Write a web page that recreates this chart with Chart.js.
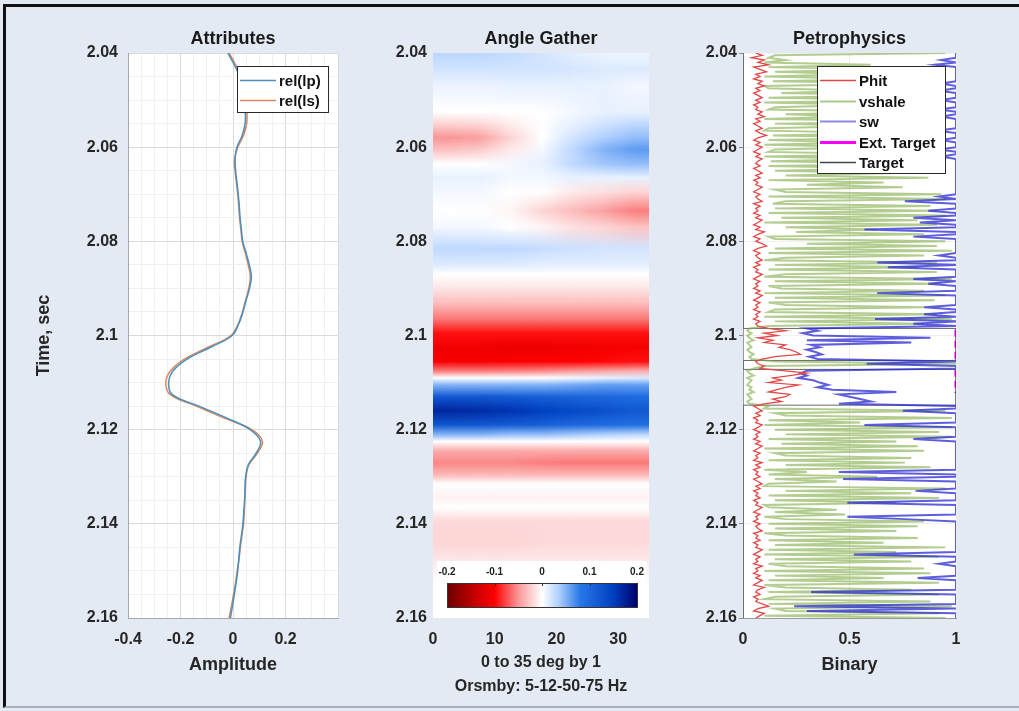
<!DOCTYPE html>
<html>
<head>
<meta charset="utf-8">
<script src="https://cdn.jsdelivr.net/npm/chart.js@4.4.0/dist/chart.umd.min.js"></script>
<style>
  html, body { margin: 0; padding: 0; }
  body { width: 1019px; height: 711px; background: #e4eaf4; position: relative; overflow: hidden; }
  #frame { position: absolute; left: 3px; top: 4px; width: 1016px; height: 704px; box-sizing: border-box;
           border-left: 3px solid #111; border-top: 3px solid #111; border-bottom: 2px solid #a9b1bd; }
  canvas { position: absolute; top: 0; }
</style>
</head>
<body>
<div id="frame"></div>
<canvas id="attr" width="350" height="711" style="left:0px"></canvas>
<canvas id="gather" width="320" height="711" style="left:350px"></canvas>
<canvas id="petro" width="349" height="711" style="left:670px"></canvas>
<script>
// ---------- Attributes ----------
const ATTR_TIME = [2.04, 2.0425, 2.045, 2.0475, 2.05, 2.0525, 2.055, 2.0575, 2.06, 2.0625,
  2.065, 2.0675, 2.07, 2.0725, 2.075, 2.0775, 2.08, 2.0825, 2.085, 2.0875,
  2.09, 2.0925, 2.095, 2.0975, 2.1, 2.1025, 2.105, 2.1075, 2.11, 2.1125,
  2.115, 2.1175, 2.12, 2.1225, 2.125, 2.1275, 2.13, 2.1325, 2.135, 2.1375,
  2.14, 2.1425, 2.145, 2.1475, 2.15, 2.1525, 2.155, 2.1575, 2.16];
const REL_IP = [-0.02, 0.005, 0.025, 0.038, 0.045, 0.047, 0.046, 0.035, 0.015, 0.008,
  0.01, 0.015, 0.02, 0.024, 0.027, 0.032, 0.037, 0.05, 0.062, 0.07,
  0.063, 0.05, 0.038, 0.022, -0.003, -0.085, -0.175, -0.228, -0.245, -0.232,
  -0.13, -0.025, 0.065, 0.105, 0.088, 0.058, 0.048, 0.046, 0.044, 0.041,
  0.038, 0.032, 0.026, 0.022, 0.018, 0.012, 0.005, -0.002, -0.01];
const REL_IS = [-0.015, 0.01, 0.03, 0.042, 0.05, 0.053, 0.052, 0.04, 0.018, 0.006,
  0.008, 0.013, 0.018, 0.022, 0.025, 0.03, 0.035, 0.047, 0.058, 0.066,
  0.06, 0.048, 0.036, 0.02, -0.008, -0.095, -0.185, -0.238, -0.256, -0.24,
  -0.14, -0.035, 0.072, 0.112, 0.093, 0.06, 0.05, 0.047, 0.045, 0.043,
  0.04, 0.034, 0.028, 0.023, 0.016, 0.01, 0.002, -0.006, -0.015];

// ---------- Angle Gather ----------
const GATHER_ANGLE_BINS = [2.5, 7.5, 12.5, 17.5, 22.5, 27.5, 32.5];
const GATHER_TIME = [2.04, 2.0435, 2.047, 2.0525, 2.055, 2.058, 2.0605, 2.0635, 2.0665, 2.0695,
  2.0735, 2.077, 2.0815, 2.085, 2.087, 2.0895, 2.093, 2.0965, 2.0995, 2.1025,
  2.1055, 2.1075, 2.109, 2.1105, 2.113, 2.116, 2.119, 2.121, 2.1225, 2.1245,
  2.127, 2.1295, 2.1315, 2.1345, 2.1365, 2.1395, 2.144, 2.149, 2.153, 2.16];
const AMP_0_5 = [0.03, 0.02, 0.008, 0, -0.02, -0.05, -0.03, 0, 0.01, 0.005,
  0, 0.005, 0.028, 0.015, 0, -0.01, -0.03, -0.06, -0.095, -0.11,
  -0.105, -0.06, 0, 0.05, 0.12, 0.17, 0.12, 0.05, 0, -0.04,
  -0.055, -0.035, 0, -0.006, 0, -0.018, -0.02, -0.008, 0, 0];
const AMP_5_10 = [0.03, 0.02, 0.008, 0, -0.018, -0.045, -0.025, 0, 0.01, 0.005,
  0, 0.005, 0.028, 0.015, 0, -0.01, -0.03, -0.06, -0.095, -0.11,
  -0.105, -0.06, 0, 0.05, 0.12, 0.165, 0.12, 0.05, 0, -0.04,
  -0.055, -0.035, 0, -0.006, 0, -0.018, -0.02, -0.008, 0, 0];
const AMP_10_15 = [0.026, 0.02, 0.01, 0, -0.008, -0.02, -0.01, 0.005, 0.005, 0,
  -0.005, 0, 0.028, 0.015, 0, -0.01, -0.03, -0.06, -0.095, -0.112,
  -0.103, -0.058, 0, 0.05, 0.115, 0.16, 0.115, 0.045, 0, -0.04,
  -0.055, -0.035, 0, -0.006, 0, -0.018, -0.02, -0.008, 0, 0];
const AMP_15_20 = [0.02, 0.02, 0.01, 0, 0, 0, 0.005, 0.01, 0.005, 0,
  -0.02, -0.005, 0.025, 0.012, 0, -0.01, -0.03, -0.06, -0.095, -0.112,
  -0.102, -0.055, 0, 0.05, 0.11, 0.15, 0.11, 0.045, 0, -0.04,
  -0.058, -0.035, 0, -0.006, 0, -0.018, -0.018, -0.008, 0, 0];
const AMP_20_25 = [0.012, 0.018, 0.01, 0.005, 0.01, 0.02, 0.028, 0.028, 0.01, -0.01,
  -0.032, -0.015, 0.022, 0.012, 0, -0.01, -0.03, -0.06, -0.095, -0.11,
  -0.1, -0.05, 0.005, 0.055, 0.105, 0.14, 0.1, 0.04, 0, -0.04,
  -0.06, -0.035, 0, -0.006, 0, -0.018, -0.018, -0.008, 0, 0];
const AMP_25_30 = [0.008, 0.015, 0.01, 0.01, 0.02, 0.035, 0.05, 0.04, 0.01, -0.015,
  -0.045, -0.02, 0.02, 0.012, 0, -0.01, -0.03, -0.06, -0.095, -0.108,
  -0.098, -0.045, 0.01, 0.06, 0.1, 0.13, 0.095, 0.035, 0, -0.04,
  -0.06, -0.035, 0, -0.006, 0, -0.018, -0.018, -0.008, 0, 0];
const AMP_30_35 = [0.008, 0.015, 0.005, 0.01, 0.028, 0.045, 0.062, 0.045, 0.01, -0.02,
  -0.058, -0.028, 0.02, 0.012, 0, -0.01, -0.03, -0.06, -0.095, -0.105,
  -0.095, -0.04, 0.015, 0.06, 0.095, 0.12, 0.09, 0.03, 0, -0.04,
  -0.06, -0.035, 0, -0.006, 0, -0.018, -0.018, -0.008, 0, 0];
const GATHER_COLUMNS = [AMP_0_5, AMP_5_10, AMP_10_15, AMP_15_20, AMP_20_25, AMP_25_30, AMP_30_35];
const CBAR_TICKS = [-0.2, -0.1, 0, 0.1, 0.2];

// ---------- Petrophysics (one sample every 0.5 ms from 2.04 s) ----------
const PETRO_T0 = 2.04, PETRO_DT = 0.0005;
const PHIT = [0.06, 0.09, 0.04, 0.1, 0.07, 0.12, 0.05, 0.08, 0.11, 0.06,
  0.08, 0.05, 0.09, 0.07, 0.1, 0.06, 0.08, 0.05, 0.07, 0.09,
  0.06, 0.08, 0.05, 0.07, 0.06, 0.09, 0.07, 0.1, 0.06, 0.08,
  0.05, 0.07, 0.09, 0.06, 0.08, 0.11, 0.07, 0.05, 0.08, 0.06,
  0.09, 0.07, 0.05, 0.08, 0.06, 0.09, 0.07, 0.06, 0.08, 0.05,
  0.07, 0.09, 0.06, 0.08, 0.05, 0.07, 0.06, 0.09, 0.07, 0.05,
  0.08, 0.06, 0.07, 0.09, 0.05, 0.08, 0.06, 0.07, 0.05, 0.08,
  0.06, 0.09, 0.07, 0.05, 0.08, 0.06, 0.1, 0.07, 0.05, 0.08,
  0.06, 0.09, 0.11, 0.07, 0.05, 0.08, 0.06, 0.07, 0.09, 0.06,
  0.08, 0.05, 0.07, 0.06, 0.09, 0.07, 0.05, 0.08, 0.06, 0.07,
  0.05, 0.08, 0.06, 0.09, 0.07, 0.05, 0.08, 0.06, 0.07, 0.05,
  0.08, 0.06, 0.07, 0.05, 0.08, 0.06, 0.07,
  0.12, 0.2, 0.1, 0.16, 0.07, 0.14, 0.1, 0.2, 0.17, 0.22, 0.25, 0.27, 0.15, 0.09,
  0.06, 0.07, 0.1, 0.08,
  0.2, 0.3, 0.22, 0.14, 0.18, 0.12, 0.26, 0.2, 0.16, 0.12, 0.22, 0.2, 0.14, 0.18, 0.1,
  0.05, 0.07, 0.09, 0.06, 0.08, 0.05, 0.07, 0.06, 0.09, 0.07,
  0.05, 0.08, 0.06, 0.07, 0.05, 0.08, 0.06, 0.09, 0.07, 0.05,
  0.08, 0.06, 0.07, 0.05, 0.09, 0.06, 0.08, 0.05, 0.07, 0.06,
  0.08, 0.05, 0.07, 0.09, 0.06, 0.08, 0.05, 0.07, 0.06, 0.08,
  0.05, 0.07, 0.06, 0.09, 0.07, 0.05, 0.08, 0.06, 0.07, 0.05,
  0.08, 0.06, 0.07, 0.09, 0.05, 0.07, 0.06, 0.08, 0.05, 0.07,
  0.06, 0.09, 0.07, 0.05, 0.08, 0.06, 0.07, 0.05, 0.09, 0.06,
  0.07, 0.05, 0.08, 0.06, 0.09, 0.07, 0.05, 0.1, 0.07, 0.06,
  0.08, 0.05, 0.07, 0.06, 0.09, 0.12, 0.07, 0.05, 0.1, 0.08, 0.06];
const VSHALE = [0.95, 0.15, 0.12, 0.2, 0.1, 0.6, 0.12, 0.7, 0.15, 0.55,
  0.1, 0.65, 0.14, 0.8, 0.1, 0.12, 0.55, 0.18, 0.7, 0.12,
  0.85, 0.1, 0.6, 0.15, 0.12, 0.75, 0.2, 0.5, 0.1, 0.9,
  0.15, 0.6, 0.12, 0.1, 0.7, 0.14, 0.8, 0.12, 0.55, 0.1,
  0.65, 0.15, 0.12, 0.75, 0.1, 0.6, 0.13, 0.85, 0.12, 0.7,
  0.15, 0.72, 0.2, 0.87, 0.12, 0.66, 0.3, 0.75, 0.15, 0.2,
  0.93, 0.12, 0.95, 0.2, 0.14, 0.88, 0.15, 0.91, 0.12, 0.95,
  0.18, 0.82, 0.1, 0.91, 0.2, 0.63, 0.25, 0.85, 0.12, 0.15,
  0.95, 0.3, 0.91, 0.15, 0.98, 0.12, 0.85, 0.2, 0.1, 0.91,
  0.15, 0.82, 0.12, 0.91, 0.2, 0.1, 0.98, 0.15, 0.91, 0.12,
  0.18, 0.85, 0.1, 0.95, 0.15, 0.9, 0.12, 0.2, 0.85, 0.15,
  0.12, 0.91, 0.1, 0.98, 0.15, 0.85, 0.12,
  0.03, 0.02, 0.04, 0.02, 0.03, 0.05, 0.02, 0.03, 0.04, 0.02, 0.03, 0.05, 0.03, 0.04,
  0.15, 1.0, 0.1, 0.05,
  0.02, 0.03, 0.05, 0.02, 0.04, 0.03, 0.02, 0.04, 0.03, 0.05, 0.02, 0.03, 0.04, 0.02, 0.03,
  0.12, 0.1, 0.95, 0.15, 0.2, 0.98, 0.12, 0.55, 0.1, 0.98,
  0.15, 0.92, 0.2, 0.98, 0.12, 0.72, 0.18, 0.82, 0.1, 0.85,
  0.15, 0.2, 0.79, 0.12, 0.76, 0.2, 0.88, 0.1, 0.3, 0.12,
  0.63, 0.15, 0.44, 0.12, 0.1, 0.95, 0.2, 0.79, 0.12, 0.92,
  0.15, 0.72, 0.1, 0.12, 0.44, 0.15, 0.48, 0.1, 0.2, 0.85,
  0.12, 0.82, 0.15, 0.72, 0.1, 0.2, 0.82, 0.12, 0.66, 0.15,
  0.95, 0.12, 0.72, 0.1, 0.92, 0.15, 0.79, 0.12, 0.2, 0.85,
  0.1, 0.88, 0.15, 0.66, 0.12, 0.92, 0.1, 0.2, 0.79, 0.12,
  0.92, 0.15, 0.1, 0.88, 0.12, 0.98, 0.15, 0.2, 0.92, 0.1, 0.95];
const SW = [1, 1, 1, 0.93, 1, 0.9, 1, 1, 1, 1,
  1, 1, 1, 0.93, 1, 1, 0.92, 1, 1, 1,
  0.93, 1, 1, 1, 0.92, 1, 1, 0.93, 1, 1,
  1, 1, 1, 0.91, 1, 1, 1, 0.93, 1, 1,
  1, 0.92, 1, 1, 0.93, 1, 1, 1, 1, 1,
  1, 1, 1, 1, 1, 1, 1, 1, 1, 1,
  1, 0.92, 1, 0.76, 1, 1, 1, 0.87, 1, 1,
  0.8, 1, 0.83, 1, 1, 0.57, 1, 1, 0.8, 1,
  1, 1, 1, 1, 1, 1, 0.92, 1, 1, 0.63,
  1, 0.68, 1, 1, 1, 1, 0.8, 1, 0.87, 1,
  1, 1, 0.63, 1, 1, 1, 1, 1, 0.85, 1,
  1, 0.85, 1, 0.62, 1, 0.8, 1,
  0.3, 0.35, 0.28, 0.33, 0.88, 0.3, 0.79, 0.32, 0.36, 0.3, 0.34, 0.37, 0.31, 0.35,
  1, 0.58, 1, 1,
  0.3, 0.27, 0.3, 0.26, 0.33, 0.36, 0.4, 0.35, 0.42, 0.72, 0.45, 0.5, 0.55, 0.6, 0.45,
  1, 1, 0.75, 1, 1, 1, 1, 1, 0.57, 1,
  1, 1, 1, 1, 0.8, 1, 1, 1, 1, 1,
  1, 1, 1, 1, 1, 1, 1, 1, 0.45, 1,
  1, 0.47, 1, 1, 1, 1, 0.81, 1, 1, 1,
  1, 0.49, 1, 1, 1, 1, 1, 0.49, 0.76, 1,
  1, 1, 1, 1, 1, 1, 1, 1, 1, 1,
  1, 1, 1, 0.52, 1, 1, 1, 0.92, 1, 1,
  1, 1, 1, 0.82, 1, 1, 1, 1, 1, 0.32,
  1, 1, 1, 1, 1, 0.24, 1, 0.3, 1, 1, 1];
const TARGET_T = [2.04, 2.0985, 2.0985, 2.1053, 2.1053, 2.1072, 2.1072, 2.1148, 2.1148, 2.16];
const TARGET_V = [0, 0, 1, 1, 0, 0, 1, 1, 0, 0];
const EXT_TARGET_T = [2.0988, 2.1052, null, 2.1073, 2.1122];
const EXT_TARGET_V = [1, 1, null, 1, 1];

// colour map of the gather (value -> rgb), red negative, blue positive
const CMAP_V = [-0.2, -0.15, -0.1, -0.05, 0, 0.035, 0.08, 0.15, 0.2];
const CMAP_RGB = [[110, 0, 0], [185, 0, 0], [255, 0, 0], [250, 150, 150], [255, 255, 255],
  [176, 208, 255], [40, 120, 232], [0, 64, 192], [0, 0, 110]];

const FONT = "'Liberation Sans', Arial, sans-serif";
const INK = '#262626';
const TICK_FONT = {size: 16, weight: 'bold'};
Chart.defaults.font.family = FONT;
Chart.defaults.font.weight = 'bold';
Chart.defaults.color = INK;
Chart.defaults.animation = false;

function ampColor(v) {
  if (v <= CMAP_V[0]) return 'rgb(' + CMAP_RGB[0].join(',') + ')';
  for (let i = 1; i < CMAP_V.length; i++) {
    if (v <= CMAP_V[i]) {
      const f = (v - CMAP_V[i - 1]) / (CMAP_V[i] - CMAP_V[i - 1]);
      const a = CMAP_RGB[i - 1], b = CMAP_RGB[i];
      return 'rgb(' + a.map((c, k) => Math.round(c + (b[k] - c) * f)).join(',') + ')';
    }
  }
  return 'rgb(' + CMAP_RGB[CMAP_RGB.length - 1].join(',') + ')';
}
function isMultiple(v, step) { const r = v / step; return Math.abs(r - Math.round(r)) < 1e-6; }
function timeLabel(v) { return String(Number(v.toFixed(3))); }
function fixWidth(w) { return function (scale) { scale.width = w; }; }
function fixHeight(h) { return function (scale) { scale.height = h; }; }
function curve(vals, times) { return vals.map((v, i) => ({x: v, y: times[i]})); }

// white plot box
const plotBg = {
  id: 'plotBg',
  beforeDraw(chart) {
    const a = chart.chartArea, c = chart.ctx;
    c.save();
    c.fillStyle = '#ffffff';
    c.fillRect(a.left, a.top, a.right - a.left, a.bottom - a.top);
    c.restore();
  }
};

// title centred over the plot box
const panelTitle = {
  id: 'panelTitle',
  afterDraw(chart, args, opts) {
    const a = chart.chartArea, c = chart.ctx;
    c.save();
    c.font = 'bold 18px ' + FONT;
    c.fillStyle = '#1a1a1a';
    c.textAlign = 'center';
    c.textBaseline = 'middle';
    c.fillText(opts.text, (a.left + a.right) / 2, a.top - 14);
    c.restore();
  }
};

// boxed legend inside the plot, like matlab's
const boxLegend = {
  id: 'boxLegend',
  afterDraw(chart, args, opts) {
    if (!opts.w) return;
    const c = chart.ctx;
    const x = chart.chartArea.left + opts.dx, y = chart.chartArea.top + opts.dy;
    c.save();
    c.fillStyle = '#ffffff';
    c.fillRect(x, y, opts.w, opts.h);
    c.strokeStyle = '#2a2a2a';
    c.lineWidth = 1;
    c.strokeRect(x + 0.5, y + 0.5, opts.w, opts.h);
    c.font = 'bold 15px ' + FONT;
    c.textBaseline = 'middle';
    let row = 0;
    chart.data.datasets.forEach(ds => {
      if (!ds.label) return;
      const cy = Math.round(y + opts.first + row * opts.rowH) + 0.5;
      c.setLineDash([]);
      c.strokeStyle = ds.legendColor || ds.borderColor;
      c.lineWidth = ds.legendWidth || ds.borderWidth || 1;
      c.beginPath();
      c.moveTo(x + 3, cy);
      c.lineTo(x + 3 + opts.lineLen, cy);
      c.stroke();
      c.fillStyle = '#111';
      c.fillText(ds.label, x + 6 + opts.lineLen, cy + 1);
      row++;
    });
    c.restore();
  }
};

// colour bar drawn in the lower part of the gather
const colorBar = {
  id: 'colorBar',
  afterDatasetsDraw(chart) {
    const a = chart.chartArea, c = chart.ctx;
    const x0 = a.left + 14, x1 = a.right - 12, y0 = a.bottom - 35, y1 = a.bottom - 11;
    const lo = CMAP_V[0], hi = CMAP_V[CMAP_V.length - 1];
    c.save();
    c.fillStyle = '#ffffff';
    c.fillRect(x0 - 10, y0 - 22, x1 - x0 + 20, a.bottom - y0 + 22);
    const g = c.createLinearGradient(x0, 0, x1, 0);
    CMAP_V.forEach((v, i) => g.addColorStop((v - lo) / (hi - lo), 'rgb(' + CMAP_RGB[i].join(',') + ')'));
    c.fillStyle = g;
    c.fillRect(x0, y0, x1 - x0, y1 - y0);
    c.strokeStyle = '#333';
    c.lineWidth = 1;
    c.strokeRect(x0 + 0.5, y0 + 0.5, x1 - x0, y1 - y0);
    c.font = 'bold 10px ' + FONT;
    c.fillStyle = '#222';
    c.textAlign = 'center';
    c.textBaseline = 'middle';
    CBAR_TICKS.forEach(v => {
      const x = x0 + (v - lo) / (hi - lo) * (x1 - x0);
      c.fillText(String(v), x, y0 - 11);
      c.beginPath();
      c.moveTo(Math.round(x) + 0.5, y0);
      c.lineTo(Math.round(x) + 0.5, y0 + 3);
      c.stroke();
    });
    c.restore();
  }
};

function timeAxis(width, pad, withMinor, extra) {
  return Object.assign({
    type: 'linear', min: 2.04, max: 2.16, reverse: true,
    afterFit: fixWidth(width),
    ticks: {
      stepSize: withMinor ? 0.005 : 0.02, autoSkip: false, padding: pad,
      font: TICK_FONT, color: INK,
      callback: v => isMultiple(v - 2.04, 0.02) ? timeLabel(v) : ''
    }
  }, extra);
}

// ---------- chart 1: Attributes ----------
new Chart(document.getElementById('attr'), {
  type: 'scatter',
  data: {
    datasets: [
      {label: 'rel(lp)', data: curve(REL_IP, ATTR_TIME), showLine: true, pointRadius: 0,
       borderColor: '#4a8fc0', borderWidth: 1.5, tension: 0.4},
      {label: 'rel(ls)', data: curve(REL_IS, ATTR_TIME), showLine: true, pointRadius: 0,
       borderColor: '#d8875e', borderWidth: 1.5, tension: 0.4}
    ]
  },
  options: {
    responsive: false,
    layout: {padding: {left: 28, top: 53, right: 10, bottom: 18}, autoPadding: false},
    plugins: {
      legend: {display: false}, tooltip: {enabled: false},
      panelTitle: {text: 'Attributes'},
      boxLegend: {dx: 109, dy: 13, w: 91, h: 46, first: 13.5, rowH: 20, lineLen: 36}
    },
    scales: {
      x: {
        type: 'linear', min: -0.4, max: 0.4, afterFit: fixHeight(75),
        ticks: {stepSize: 0.05, autoSkip: false, maxRotation: 0, padding: 12,
          font: TICK_FONT, color: INK,
          callback: v => (isMultiple(v, 0.2) && v < 0.39) ? String(Number(v.toFixed(2))) : ''},
        grid: {color: ctx => isMultiple(ctx.tick.value, 0.2) ? '#dadada' : '#f0f0f0', drawTicks: false},
        border: {color: '#a8a8a8'},
        title: {display: true, text: 'Amplitude', font: {size: 18, weight: 'bold'}, color: INK,
          padding: {top: 0, bottom: 17}}
      },
      y: timeAxis(100, 10, true, {
        grid: {color: ctx => isMultiple(ctx.tick.value - 2.04, 0.02) ? '#dadada' : '#f0f0f0', drawTicks: false},
        border: {color: '#a8a8a8'},
        title: {display: true, text: 'Time, sec', font: {size: 18, weight: 'bold'}, color: INK,
          padding: {top: 5, bottom: 0}}
      })
    }
  },
  plugins: [plotBg, panelTitle, boxLegend]
});

// ---------- chart 2: Angle Gather ----------
// each column's amplitudes become a vertical gradient placed by the y scale,
// columns are centred on their angle bin by the x scale and blended sideways
let gatherCache = null;
function gatherFill(ctx) {
  const chart = ctx.chart, a = chart.chartArea, xs = chart.scales.x, ys = chart.scales.y;
  if (!a || !xs || !ys) return '#ffffff';
  const key = [a.left, a.top, a.right, a.bottom].join(',');
  if (gatherCache && gatherCache.key === key) return gatherCache.pattern;
  const n = GATHER_COLUMNS.length;
  const top = Math.floor(a.top), h = Math.ceil(a.bottom) - top;
  const p0 = ys.getPixelForValue(GATHER_TIME[0]);
  const p1 = ys.getPixelForValue(GATHER_TIME[GATHER_TIME.length - 1]);
  const small = document.createElement('canvas');
  small.width = n + 2;
  small.height = h;
  const sc = small.getContext('2d');
  for (let j = 0; j < n + 2; j++) {
    const col = GATHER_COLUMNS[Math.min(n - 1, Math.max(0, j - 1))];
    const g = sc.createLinearGradient(0, p0 - top, 0, p1 - top);
    GATHER_TIME.forEach((t, i) => g.addColorStop((ys.getPixelForValue(t) - p0) / (p1 - p0), ampColor(col[i])));
    sc.fillStyle = g;
    sc.fillRect(j, 0, 1, h);
  }
  const big = document.createElement('canvas');
  big.width = chart.canvas.width;
  big.height = chart.canvas.height;
  const bc = big.getContext('2d');
  bc.imageSmoothingEnabled = true;
  bc.imageSmoothingQuality = 'low';
  const step = xs.getPixelForValue(GATHER_ANGLE_BINS[1]) - xs.getPixelForValue(GATHER_ANGLE_BINS[0]);
  const x0 = xs.getPixelForValue(GATHER_ANGLE_BINS[0]) - 1.5 * step;
  bc.drawImage(small, x0, top, (n + 2) * step, h);
  gatherCache = {key: key, pattern: chart.ctx.createPattern(big, 'no-repeat')};
  return gatherCache.pattern;
}

new Chart(document.getElementById('gather'), {
  type: 'bar',
  data: {
    datasets: [{
      data: GATHER_ANGLE_BINS.map(a => ({x: a, y: [GATHER_TIME[0], GATHER_TIME[GATHER_TIME.length - 1]]})),
      backgroundColor: gatherFill, borderWidth: 0, borderSkipped: false,
      barPercentage: 1.03, categoryPercentage: 1
    }]
  },
  options: {
    responsive: false,
    layout: {padding: {left: 20, top: 53, right: 21, bottom: 5}, autoPadding: false},
    plugins: {
      legend: {display: false}, tooltip: {enabled: false},
      panelTitle: {text: 'Angle Gather'}
    },
    scales: {
      x: {
        type: 'linear', min: 0, max: 35, offset: false, afterFit: fixHeight(88),
        ticks: {stepSize: 10, autoSkip: false, maxRotation: 0, padding: 12,
          font: TICK_FONT, color: INK,
          callback: v => isMultiple(v, 10) ? String(v) : ''},
        grid: {display: false, drawTicks: false, offset: false},
        border: {display: false},
        title: {display: true, text: ['0 to 35 deg by 1', 'Orsmby: 5-12-50-75 Hz'],
          font: {size: 16, weight: 'bold', lineHeight: 1.5}, color: INK, padding: {top: 0, bottom: 7}}
      },
      y: timeAxis(63, 6, false, {
        beginAtZero: false,
        grid: {display: false, drawTicks: false},
        border: {display: false}
      })
    }
  },
  plugins: [plotBg, panelTitle, colorBar]
});

// ---------- chart 3: Petrophysics ----------
const PETRO_TIME = PHIT.map((_, i) => Number((PETRO_T0 + i * PETRO_DT).toFixed(4)));

new Chart(document.getElementById('petro'), {
  type: 'scatter',
  data: {
    datasets: [
      {label: 'Phit', data: curve(PHIT, PETRO_TIME), showLine: true, pointRadius: 0,
       borderColor: '#e24848', borderWidth: 1.3, order: 1},
      {label: 'vshale', data: curve(VSHALE, PETRO_TIME), showLine: true, pointRadius: 0,
       borderColor: 'rgba(128,172,70,0.6)', legendColor: '#a9c98c', borderWidth: 2, order: 3},
      {label: 'sw', data: curve(SW, PETRO_TIME), showLine: true, pointRadius: 0,
       borderColor: 'rgba(40,40,210,0.75)', legendColor: '#8c8ce6', borderWidth: 2, order: 2},
      {label: 'Ext. Target', data: curve(EXT_TARGET_V, EXT_TARGET_T), showLine: true, pointRadius: 0,
       borderColor: '#c400c4', legendColor: '#ff00ff', borderWidth: 3, borderDash: [7, 4], order: 0},
      {label: 'Target', data: curve(TARGET_V, TARGET_T), showLine: true, pointRadius: 0,
       borderColor: '#6a6a6a', legendColor: '#444444', borderWidth: 1, legendWidth: 1.5, order: 4}
    ]
  },
  options: {
    responsive: false,
    layout: {padding: {left: 20, top: 53, right: 63, bottom: 18}, autoPadding: false},
    plugins: {
      legend: {display: false}, tooltip: {enabled: false},
      panelTitle: {text: 'Petrophysics'},
      boxLegend: {dx: 74, dy: 13, w: 128, h: 107, first: 14, rowH: 20.5, lineLen: 36}
    },
    scales: {
      x: {
        type: 'linear', min: 0, max: 1, afterFit: fixHeight(75),
        ticks: {stepSize: 0.5, autoSkip: false, maxRotation: 0, padding: 12,
          font: TICK_FONT, color: INK,
          callback: v => String(v)},
        grid: {color: '#ececec', drawTicks: false},
        border: {color: '#9a9a9a'},
        title: {display: true, text: 'Binary', font: {size: 18, weight: 'bold'}, color: INK,
          padding: {top: 0, bottom: 17}}
      },
      y: timeAxis(53, 2, false, {
        grid: {color: '#f0f0f0', tickColor: '#8a8a8a', tickLength: 4},
        border: {color: '#9a9a9a'}
      })
    }
  },
  plugins: [plotBg, panelTitle, boxLegend]
});
</script>
</body>
</html>
